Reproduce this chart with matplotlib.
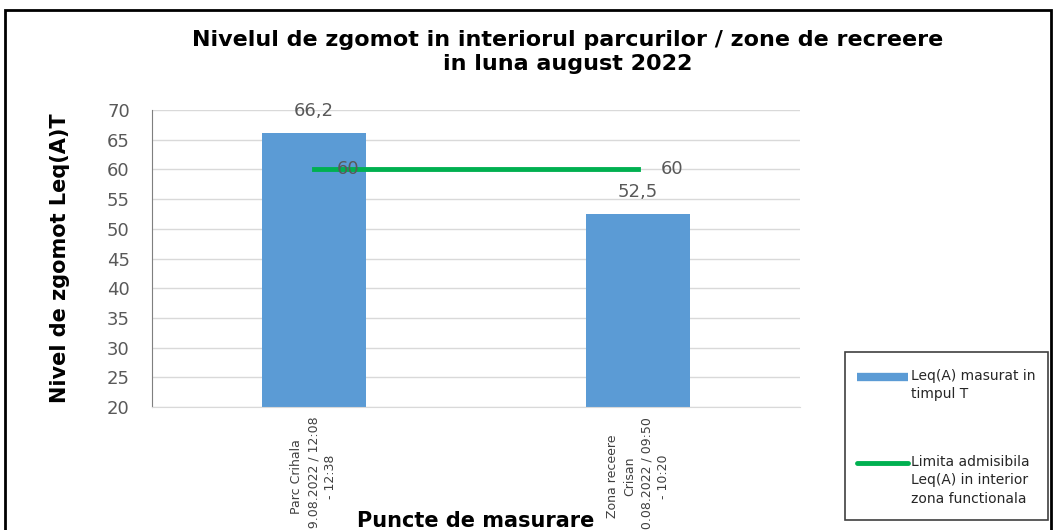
import matplotlib.pyplot as plt
from matplotlib.patches import Rectangle
from matplotlib.lines import Line2D
import numpy as np

categories = ["Parc Crihala\n29.08.2022 / 12:08\n- 12:38",
              "Zona receere\nCrisan\n30.08.2022 / 09:50\n- 10:20"]
leq_measured = [66.2, 52.5]
leq_limit = [60, 60]
value_labels = ["66,2", "52,5"]
limit_labels = ["60", "60"]
legend_labels = ["Leq(A) masurat in\ntimpul T",
                 "Limita admisibila\nLeq(A) in interior\nzona functionala"]

W, H = 1057, 530
fig = plt.figure(figsize=(W/100, H/100), dpi=100)
ax = fig.add_axes([152/W, 1-407/H, 648/W, 297/H])

bar_color = '#5b9bd5'
line_color = '#00b050'

x = np.arange(len(categories))
ax.bar(x, leq_measured, 0.32, color=bar_color, zorder=2)
ax.plot(x, leq_limit, color=line_color, lw=3.5, zorder=3)

for xi, v, t in zip(x, leq_measured, value_labels):
    ax.annotate(t, (xi, v), xytext=(0, 9), textcoords='offset points',
                ha='center', va='bottom', fontsize=13, color='#595959')
for xi, v, t in zip(x, leq_limit, limit_labels):
    ax.text(xi + 0.07, v, t, ha='left', va='center', fontsize=13, color='#595959', zorder=4)

ax.set_xlim(-0.5, 1.5)
ax.set_ylim(20, 70)
ax.set_yticks(np.arange(20, 71, 5))
ax.yaxis.grid(True, color='#d9d9d9', lw=1, zorder=0)
ax.set_axisbelow(True)
ax.tick_params(axis='y', length=0, labelsize=13, labelcolor='#595959', pad=16)
ax.tick_params(axis='x', length=0, pad=7)
ax.set_xticks(x)
ax.set_xticklabels(categories, rotation=90, fontsize=9, color='#404040', va='top', ha='center',
                   linespacing=1.4)
for s in ['top', 'right']:
    ax.spines[s].set_visible(False)
ax.spines['left'].set_color('#7f7f7f')
ax.spines['bottom'].set_color('#d9d9d9')

fig.text(568/W, 1-30/H, "Nivelul de zgomot in interiorul parcurilor / zone de recreere\nin luna august 2022",
         ha='center', va='top', fontsize=16, fontweight='bold', linespacing=1.25)
fig.text(60/W, 1-258/H, "Nivel de zgomot Leq(A)T", rotation=90, ha='center', va='center',
         fontsize=15, fontweight='bold')
fig.text(476/W, 1-521/H, "Puncte de masurare", ha='center', va='center', fontsize=15, fontweight='bold')

# legend box drawn by hand so that each key sits on the first line of its text
fig.add_artist(Rectangle((845/W, 1-520/H), 203/W, 168/H, transform=fig.transFigure,
                         fill=False, edgecolor='#404040', lw=1.2))
fig.add_artist(Line2D([857/W, 908/W], [1-377/H, 1-377/H], transform=fig.transFigure,
                      color=bar_color, lw=6, solid_capstyle='butt'))
fig.add_artist(Line2D([857/W, 908/W], [1-463/H, 1-463/H], transform=fig.transFigure,
                      color=line_color, lw=3.5, solid_capstyle='round'))
for yy, lab in zip([377, 463], legend_labels):
    fig.text(911/W, 1-(yy-8)/H, lab, ha='left', va='top', fontsize=10, color='#262626',
             linespacing=1.4)

fig.add_artist(Rectangle((5/W, -0.1), 1046/W, 1.1 - 10/H, transform=fig.transFigure,
                         fill=False, edgecolor='black', lw=2))

fig.savefig("out.png", dpi=100)
